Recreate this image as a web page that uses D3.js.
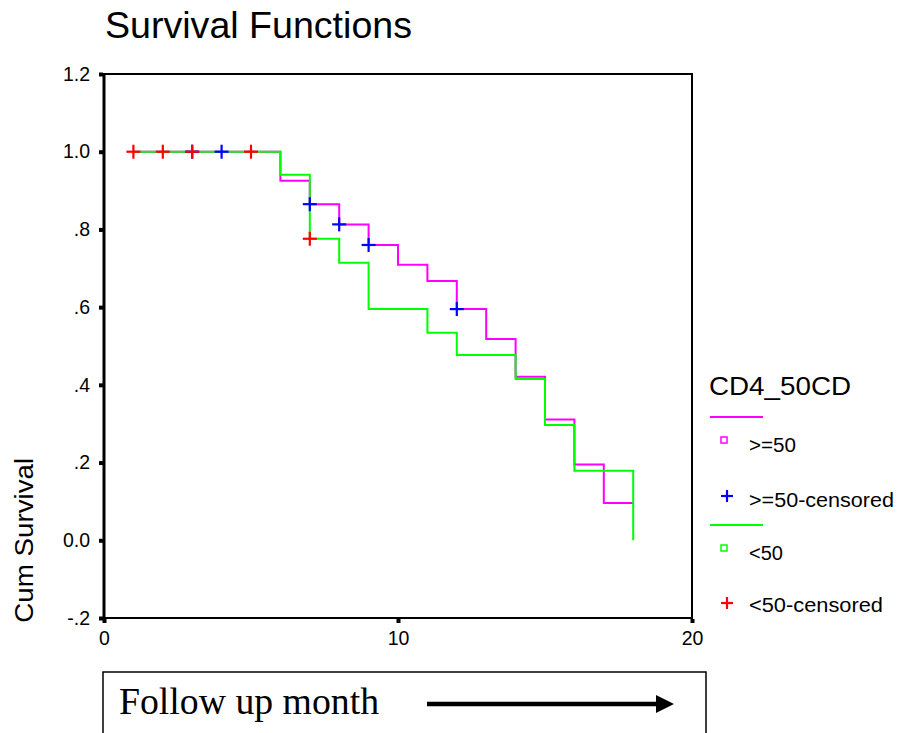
<!DOCTYPE html>
<html>
<head>
<meta charset="utf-8">
<script src="https://cdn.jsdelivr.net/npm/d3@7"></script>
<style>
  html, body { margin: 0; padding: 0; background: #fff; }
  svg { display: block; }
  text { font-family: "Liberation Sans", Arial, sans-serif; fill: #000; }
  text.serif { font-family: "Liberation Serif", "Times New Roman", serif; }
</style>
</head>
<body>
<svg id="chart" width="901" height="733"></svg>
<script>
// ---------- data ----------
const chartTitle = "Survival Functions";
const yLabel = "Cum Survival";
const legendTitle = "CD4_50CD";
const groupNames = [">=50", "<50"];

// Kaplan-Meier step points (time, cumulative survival) for each group
const geTimes = [1, 6, 7, 8, 9, 10, 11, 12, 13, 14, 15, 16, 17, 18];
const geSurv  = [1.0, 0.925, 0.865, 0.813, 0.760, 0.709, 0.667, 0.595, 0.518, 0.421, 0.311, 0.195, 0.096, 0.096];
const ltTimes = [1, 6, 7, 8, 9, 11, 12, 14, 15, 16, 18];
const ltSurv  = [1.0, 0.941, 0.776, 0.714, 0.595, 0.534, 0.477, 0.415, 0.297, 0.179, 0.0];

// censored observations
const geCensTimes = [3, 4, 7, 8, 9, 12];
const geCensSurv  = [1.0, 1.0, 0.865, 0.813, 0.760, 0.595];
const ltCensTimes = [1, 2, 3, 5, 7];
const ltCensSurv  = [1.0, 1.0, 1.0, 1.0, 0.776];

const xTicks = [0, 10, 20];
const xTickLabels = ["0", "10", "20"];
const yTicks = [1.2, 1.0, 0.8, 0.6, 0.4, 0.2, 0.0, -0.2];
const yTickLabels = ["1.2", "1.0", ".8", ".6", ".4", ".2", "0.0", "-.2"];

const bottomNote = "Follow up month";

// ---------- drawing ----------
const svg = d3.select("#chart");
const colors = { ge: "#ff00ff", lt: "#00ff00", geC: "#0000ff", ltC: "#ff0000" };

const x = d3.scaleLinear().domain([0, 20]).range([104, 692]);
const y = d3.scaleLinear().domain([-0.2, 1.2]).range([618, 74]);

// title
svg.append("text").attr("x", 105).attr("y", 38)
  .attr("font-size", 36).attr("textLength", 307).attr("lengthAdjust", "spacingAndGlyphs")
  .text(chartTitle);

// frame
svg.append("rect").attr("x", x(0)).attr("y", y(1.2))
  .attr("width", x(20) - x(0)).attr("height", y(-0.2) - y(1.2))
  .attr("fill", "none").attr("stroke", "#000").attr("stroke-width", 2);
svg.append("line").attr("x1", x(0)).attr("x2", x(0)).attr("y1", y(1.2)).attr("y2", y(-0.2))
  .attr("stroke", "#000").attr("stroke-width", 3);

// axes
const yAxis = d3.axisLeft(y).tickValues(yTicks)
  .tickFormat((d, i) => yTickLabels[i]).tickSize(0).tickPadding(14);
const gy = svg.append("g").attr("transform", `translate(${x(0)},0)`).call(yAxis);
gy.select(".domain").remove();
gy.selectAll("text").style("font-size", "19.5px").style("font-family", "Liberation Sans, Arial, sans-serif");
gy.selectAll(".tick").append("rect").attr("x", -5).attr("y", -2).attr("width", 4).attr("height", 4).attr("fill", "#000");

const xAxis = d3.axisBottom(x).tickValues(xTicks)
  .tickFormat((d, i) => xTickLabels[i]).tickSize(0).tickPadding(13);
const gx = svg.append("g").attr("transform", `translate(0,${y(-0.2)})`).call(xAxis);
gx.select(".domain").remove();
gx.selectAll("text").style("font-size", "19.5px").style("font-family", "Liberation Sans, Arial, sans-serif");
gx.selectAll(".tick").append("rect").attr("x", -2).attr("y", 1).attr("width", 4).attr("height", 4).attr("fill", "#000");

// y label
svg.append("text").attr("transform", `translate(33,${(y(0.2)+y(-0.2))/2}) rotate(-90)`)
  .attr("text-anchor", "middle").attr("font-size", 26)
  .attr("textLength", 165).attr("lengthAdjust", "spacingAndGlyphs")
  .text(yLabel);

// survival step lines
const line = d3.line().x(d => x(d[0])).y(d => y(d[1])).curve(d3.curveStepAfter);
const geData = geTimes.map((t, i) => [t, geSurv[i]]);
const ltData = ltTimes.map((t, i) => [t, ltSurv[i]]);
svg.append("path").attr("d", line(geData)).attr("fill", "none")
  .attr("stroke", colors.ge).attr("stroke-width", 2);
svg.append("path").attr("d", line(ltData)).attr("fill", "none")
  .attr("stroke", colors.lt).attr("stroke-width", 2);

// censor crosses
function cross(g, cx, cy, color, half) {
  g.append("line").attr("x1", cx - half).attr("x2", cx + half).attr("y1", cy).attr("y2", cy)
    .attr("stroke", color).attr("stroke-width", 2.2);
  g.append("line").attr("x1", cx).attr("x2", cx).attr("y1", cy - half).attr("y2", cy + half)
    .attr("stroke", color).attr("stroke-width", 2.2);
}
const gm = svg.append("g");
geCensTimes.forEach((t, i) => cross(gm, x(t), y(geCensSurv[i]), colors.geC, 7));
ltCensTimes.forEach((t, i) => cross(gm, x(t), y(ltCensSurv[i]), colors.ltC, 7));

// legend
const lg = svg.append("g");
lg.append("text").attr("x", 709).attr("y", 395).attr("font-size", 26)
  .attr("textLength", 142).attr("lengthAdjust", "spacingAndGlyphs").text(legendTitle);
const legendItems = [
  { type: "line", color: colors.ge, y: 417 },
  { type: "square", color: colors.ge, y: 440, label: groupNames[0], ty: 452, w: 47 },
  { type: "cross", color: colors.geC, y: 496, label: groupNames[0] + "-censored", ty: 507, w: 145 },
  { type: "line", color: colors.lt, y: 525 },
  { type: "square", color: colors.lt, y: 548, label: groupNames[1], ty: 560, w: 34 },
  { type: "cross", color: colors.ltC, y: 603, label: groupNames[1] + "-censored", ty: 612, w: 134 }
];
legendItems.forEach(it => {
  if (it.type === "line") {
    lg.append("line").attr("x1", 710).attr("x2", 763).attr("y1", it.y).attr("y2", it.y)
      .attr("stroke", it.color).attr("stroke-width", 2);
  } else if (it.type === "square") {
    lg.append("rect").attr("x", 721).attr("y", it.y - 3).attr("width", 6).attr("height", 6)
      .attr("fill", "none").attr("stroke", it.color).attr("stroke-width", 1.5);
  } else {
    cross(lg, 727, it.y, it.color, 6);
  }
  if (it.label) {
    lg.append("text").attr("x", 749).attr("y", it.ty).attr("font-size", 20)
      .attr("textLength", it.w).attr("lengthAdjust", "spacingAndGlyphs").text(it.label);
  }
});

// bottom annotation box
const bb = svg.append("g");
bb.append("rect").attr("x", 103).attr("y", 672).attr("width", 603).attr("height", 90)
  .attr("fill", "#fff").attr("stroke", "#000").attr("stroke-width", 1.5);
bb.append("text").attr("class", "serif").attr("x", 119).attr("y", 714)
  .attr("font-size", 38)
  .attr("textLength", 260).attr("lengthAdjust", "spacingAndGlyphs").text(bottomNote);
bb.append("line").attr("x1", 427).attr("x2", 660).attr("y1", 704).attr("y2", 704)
  .attr("stroke", "#000").attr("stroke-width", 4.5);
bb.append("path").attr("d", "M656,695 L674,704 L656,713 Z").attr("fill", "#000");
</script>
</body>
</html>
